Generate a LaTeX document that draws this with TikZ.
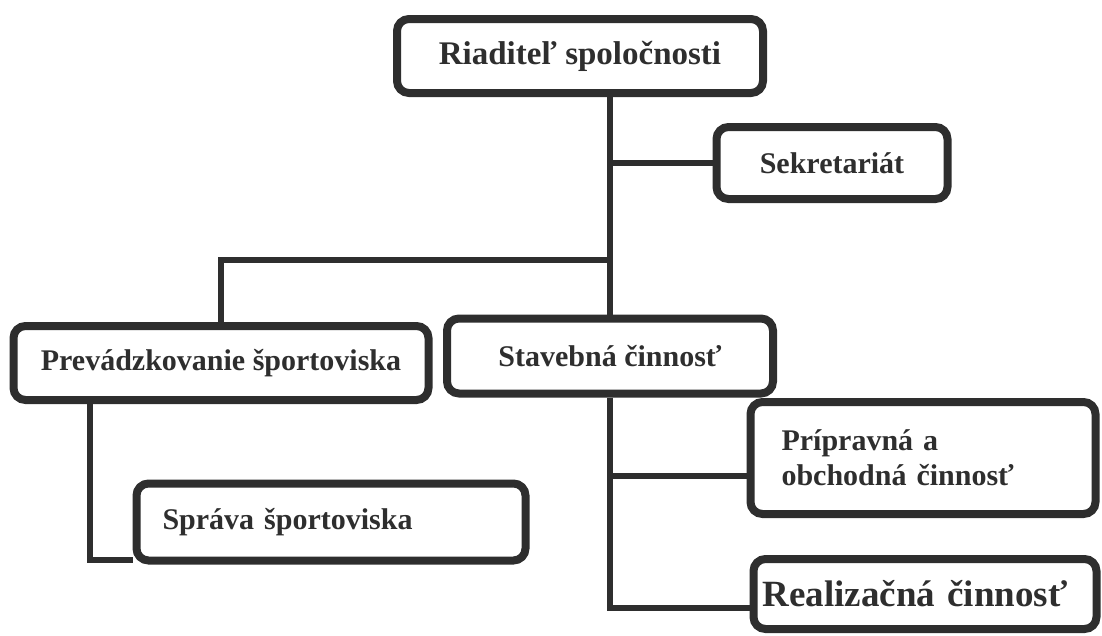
\documentclass[tikz,border=0pt]{standalone}
\usepackage{fontspec}
\setmainfont{Liberation Serif}
\usepackage{tikz}

\definecolor{ink}{HTML}{2E2E2E}

\begin{document}
\begin{tikzpicture}[x=1pt, y=-1pt,
	unit/.style={draw=ink, line width=8pt, rounded corners=12pt, fill=white, inner sep=0pt, text=ink, font=\bfseries\fontsize{30}{35}\selectfont},
	link/.style={draw=ink, line width=6pt}]
	
	\useasboundingbox (0,0) rectangle (1102,635);
	
	% Director and secretariat
	\node[unit, minimum width=366pt, minimum height=74pt, font=\bfseries\fontsize{33}{38}\selectfont] (director) at (580,56) {Riaditeľ spoločnosti};
	\node[unit, minimum width=231pt, minimum height=72pt] (secr) at (832,163) {Sekretariát};
	
	% Divisions
	\node[unit, minimum width=415pt, minimum height=74pt] (oper) at (221,363) {Prevádzkovanie športoviska};
	\node[unit, minimum width=326pt, minimum height=75pt] (build) at (610,356) {Stavebná činnosť};
	
	% Departments
	\node[unit, minimum height=77pt, text width=337pt, inner xsep=26pt, align=left] (admin) at (331,522) {Správa športoviska};
	\node[unit, minimum height=112pt, text width=283pt, inner xsep=31pt, align=left] (prep) at (923,458) {Prípravná a\\obchodná činnosť};
	\node[unit, minimum height=70pt, text width=325pt, inner xsep=9pt, align=left, font=\bfseries\fontsize{37}{42}\selectfont] (real) at (925,594) {Realizačná činnosť};
	
	% Links
	\coordinate (split) at (610,260);
	\draw[link] (director.south -| build.north) -- (build.north);
	\draw[link] (secr.west) -- (secr.west -| build.north);
	\draw[link] (oper.north) |- (split);
	\draw[link] ([xshift=-131pt]oper.south) |- ([yshift=5pt]admin.south west);
	\draw[link] (build.south) |- ([yshift=-18pt]prep.west);
	\draw[link] (build.south) |- ([yshift=-14pt]real.west);
	
\end{tikzpicture}
\end{document}
